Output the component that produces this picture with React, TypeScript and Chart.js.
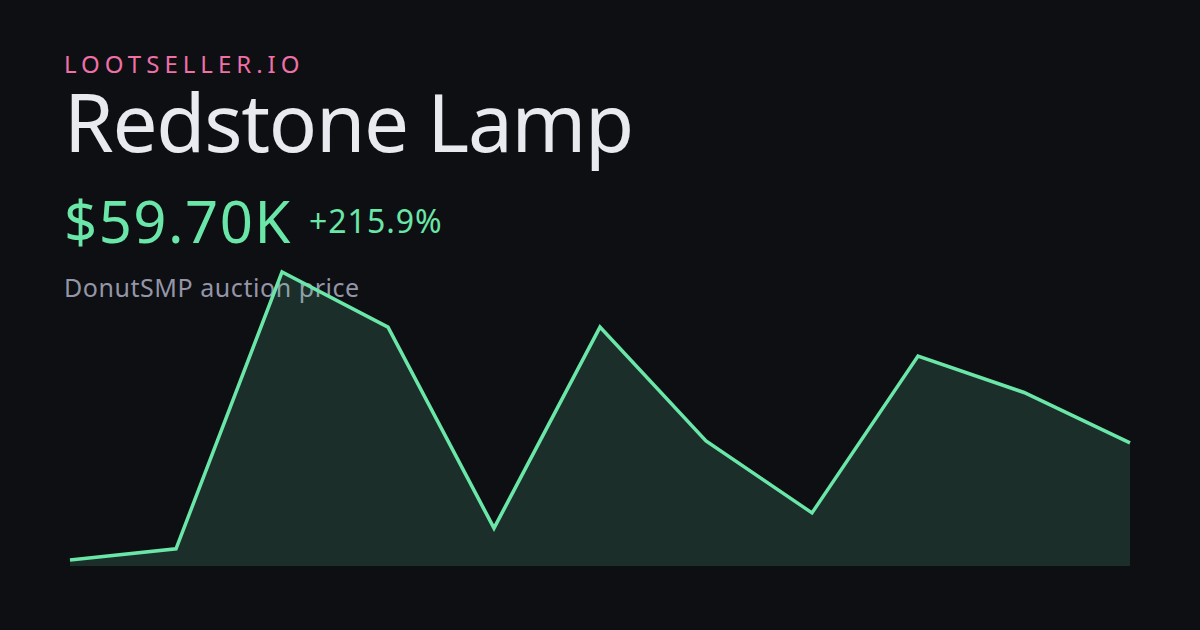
import React, { useEffect, useRef } from "react";
import { Chart, registerables } from "chart.js";

Chart.register(...registerables);

const labels: string[] = ["1", "2", "3", "4", "5", "6", "7", "8", "9", "10", "11"];
const prices: number[] = [18.9, 22.8, 119.3, 100.1, 30.0, 100.1, 60.4, 35.3, 90.0, 77.3, 59.7];
const yMin = 16.8;
const yMax = 120;

const brand = "LOOTSELLER.IO";
const title = "Redstone Lamp";
const priceText = "$59.70K";
const changeText = "+215.9%";
const subtitle = "DonutSMP auction price";

const BG = "#0d0f13";
const GREEN = "#6ae6a8";

export default function App() {
  const ref = useRef<HTMLCanvasElement | null>(null);

  useEffect(() => {
    document.body.style.margin = "0";
    document.body.style.background = BG;
    if (!ref.current) return;
    const chart = new Chart(ref.current, {
      type: "line",
      data: {
        labels,
        datasets: [
          {
            data: prices,
            borderColor: GREEN,
            borderWidth: 3.5,
            backgroundColor: "rgba(106,230,168,0.15)",
            fill: "start",
            tension: 0,
            pointRadius: 0,
            borderJoinStyle: "miter",
            clip: false as any,
          },
        ],
      },
      options: {
        responsive: false,
        animation: false,
        maintainAspectRatio: false,
        layout: { padding: { left: 70, right: 70, top: 270, bottom: 64 } },
        plugins: { legend: { display: false }, tooltip: { enabled: false } },
        scales: {
          x: { display: false, offset: false },
          y: { display: false, min: yMin, max: yMax },
        },
      },
    });
    return () => chart.destroy();
  }, []);

  const font = "'Noto Sans', sans-serif";
  const base: React.CSSProperties = {
    position: "absolute",
    left: 64,
    lineHeight: 1,
    fontFamily: font,
    whiteSpace: "nowrap",
    margin: 0,
  };

  return (
    <div style={{ position: "relative", width: 1200, height: 630, background: BG, overflow: "hidden" }}>
      <div style={{ ...base, top: 52, fontSize: 24, color: "#f06fa6", letterSpacing: "5px" }}>{brand}</div>
      <div style={{ ...base, top: 81, fontSize: 80, color: "#e9eaef", letterSpacing: "-1.3px" }}>{title}</div>
      <div style={{ ...base, top: 191.5, fontSize: 58, color: GREEN, letterSpacing: "1.5px" }}>{priceText}</div>
      <div style={{ ...base, left: 309, top: 204.6, fontSize: 32, color: GREEN, letterSpacing: "1px" }}>{changeText}</div>
      <div style={{ ...base, top: 274.8, fontSize: 25, color: "#9496a8", letterSpacing: "0.55px" }}>{subtitle}</div>
      <canvas ref={ref} width={1200} height={630} style={{ position: "absolute", left: 0, top: 0, width: 1200, height: 630 }} />
    </div>
  );
}
